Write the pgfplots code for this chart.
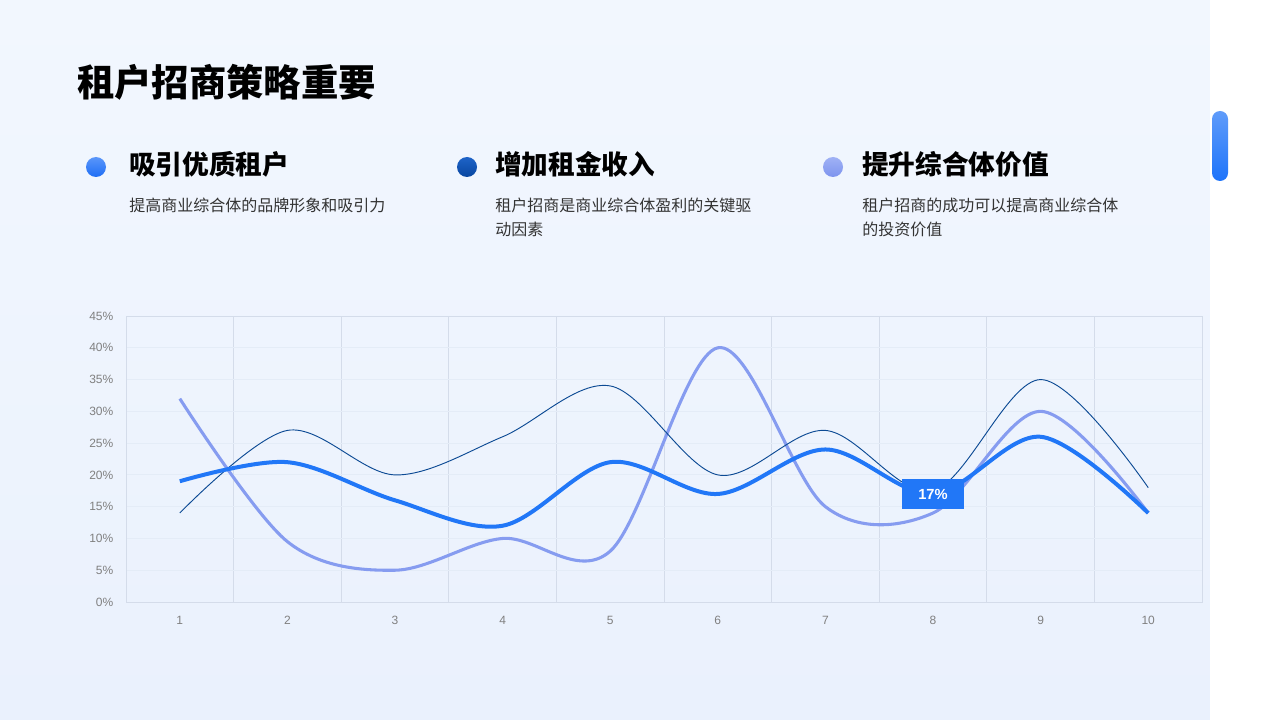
\documentclass[border=0pt]{standalone}
\usepackage{pgfplots}
\pgfplotsset{compat=1.18}
\usepackage{fontspec}
\setmainfont{Noto Sans CJK SC}
\newfontfamily\lat{Liberation Sans}
\definecolor{bgA}{RGB}{242,247,254}
\definecolor{bgB}{RGB}{234,241,253}
\definecolor{cthick}{RGB}{33,119,247}
\definecolor{cthin}{RGB}{12,74,148}
\definecolor{clight}{RGB}{134,156,240}
\definecolor{vgrid}{RGB}{212,220,234}
\definecolor{hgrid}{RGB}{228,236,247}
\definecolor{ticktext}{RGB}{128,128,128}
\definecolor{bodytext}{RGB}{51,51,51}
\begin{document}
\begin{tikzpicture}[x=0.75pt,y=-0.75pt]
\shade[top color=bgA, bottom color=bgB] (0,0) rectangle (1210,720);
\fill[white] (1210,0) rectangle (1280,720);
\shade[top color={rgb,255:red,96;green,156;blue,250}, bottom color={rgb,255:red,30;green,116;blue,250}, rounded corners=6pt] (1212,111) rectangle (1228,181);
% title
\node[anchor=west, inner sep=0, font=\fontsize{28}{30}\selectfont\bfseries] at (77,82) {租户招商策略重要};
% bullets
\shade[top color={rgb,255:red,90;green,150;blue,250}, bottom color={rgb,255:red,30;green,110;blue,245}] (96,167) circle (10);
\shade[top color={rgb,255:red,30;green,100;blue,200}, bottom color={rgb,255:red,8;green,70;blue,160}] (467,167) circle (10);
\shade[top color={rgb,255:red,160;green,178;blue,245}, bottom color={rgb,255:red,125;green,148;blue,238}] (833,167) circle (10);
% headings
\node[anchor=west, inner sep=0, font=\fontsize{20}{22}\selectfont\bfseries] at (129,164) {吸引优质租户};
\node[anchor=west, inner sep=0, font=\fontsize{20}{22}\selectfont\bfseries] at (495,164) {增加租金收入};
\node[anchor=west, inner sep=0, font=\fontsize{20}{22}\selectfont\bfseries] at (862,164) {提升综合体价值};
% bodies
\node[anchor=north west, inner sep=0, align=left, text=bodytext, font=\fontsize{12}{18}\selectfont] at (129,198) {提高商业综合体的品牌形象和吸引力};
\node[anchor=north west, inner sep=0, align=left, text=bodytext, font=\fontsize{12}{18}\selectfont] at (495,198) {租户招商是商业综合体盈利的关键驱\\动因素};
\node[anchor=north west, inner sep=0, align=left, text=bodytext, font=\fontsize{12}{18}\selectfont] at (862,198) {租户招商的成功可以提高商业综合体\\的投资价值};
\begin{axis}[
  at={(94.5pt,-451.5pt)}, anchor=south west, scale only axis,
  width=807pt, height=214.5pt,
  xmin=0.5, xmax=10.5, ymin=0, ymax=45,
  xtick={1,...,10}, ytick={0,5,...,45},
  minor xtick={1.5,2.5,...,9.5},
  xminorgrids, ymajorgrids,
  minor grid style={draw=vgrid, line width=0.6pt},
  major grid style={draw=hgrid, line width=0.6pt},
  axis line style={draw=vgrid, line width=0.6pt},
  tick style={draw=none},
  /pgf/number format/assume math mode=true,
  ticklabel style={font=\lat\fontsize{9}{10}\selectfont, text=ticktext},
  xticklabel style={anchor=north, text height=7pt, text depth=0pt, inner sep=0pt, yshift=-10pt},
  yticklabel style={xshift=-6pt},
  yticklabel={\pgfmathprintnumber{\tick}\%},
  clip=false,
]
\addplot[clight, line width=2.3pt, smooth, tension=0.55] coordinates {(1,32) (2,9.5) (3,5) (4,10) (5,8) (6,40) (7,15) (8,14) (9,30) (10,14)};
\addplot[cthin, line width=0.7pt, smooth, tension=0.55] coordinates {(1,14) (2,27) (3,20) (4,26) (5,34) (6,20) (7,27) (8,17.5) (9,35) (10,18)};
\addplot[cthick, line width=3pt, smooth, tension=0.55] coordinates {(1,19) (2,22) (3,16) (4,12) (5,22) (6,17) (7,24) (8,17) (9,26) (10,14)};
\node[fill=cthick, text=white, font=\lat\bfseries\fontsize{11}{12}\selectfont, minimum width=46.5pt, minimum height=22.5pt, inner sep=0] at (axis cs:8,17) {17\%};
\end{axis}
\end{tikzpicture}
\end{document}
